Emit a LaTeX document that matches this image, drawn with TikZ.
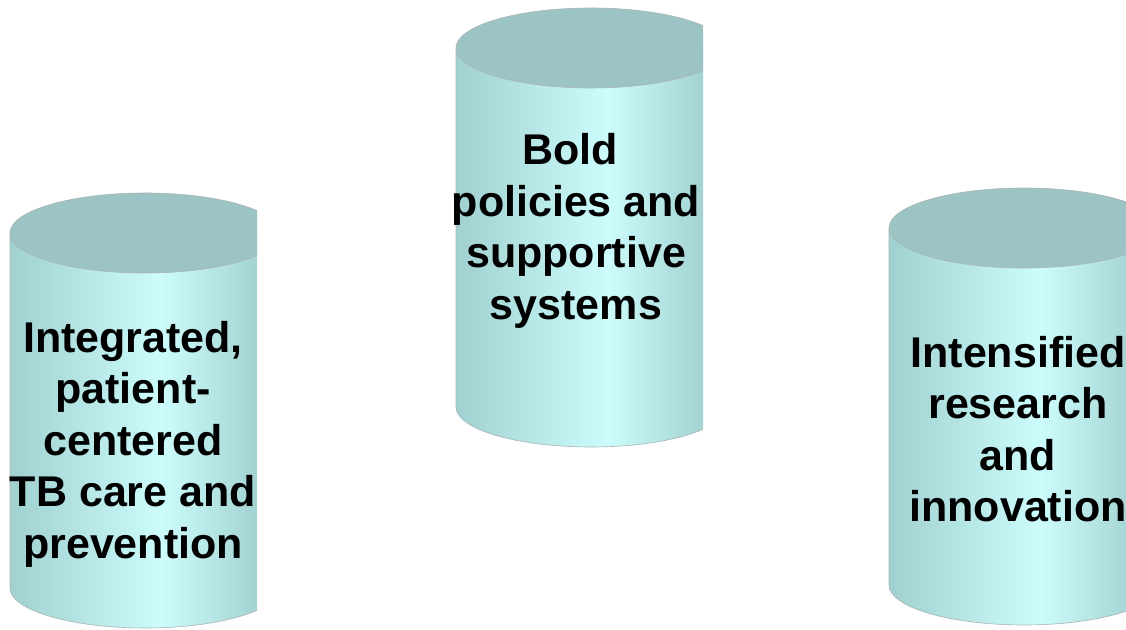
\documentclass[tikz,border=0pt]{standalone}
\usepackage{fontspec}
\setmainfont{Liberation Sans}
\definecolor{cylA}{RGB}{160,208,208}
\definecolor{cylHi}{RGB}{204,252,252}
\definecolor{cylC}{RGB}{154,200,200}
\definecolor{cyltop}{RGB}{156,196,196}
\definecolor{cylline}{RGB}{170,180,180}
\pgfdeclarehorizontalshading{cylbody}{100bp}{color(0bp)=(cylA); color(25bp)=(cylA); color(53bp)=(cylHi); color(75bp)=(cylC); color(100bp)=(cylC)}
\tikzset{
  body/.style={shading=cylbody, draw=cylline, line width=0.6pt},
  cyltopface/.style={fill=cyltop, draw=cylline, line width=0.6pt},
  label/.style={font=\bfseries\fontsize{43}{51.5}\selectfont, align=center, inner sep=0pt, text=black}
}
\begin{document}
\begin{tikzpicture}[x=1pt,y=1pt]
\useasboundingbox (0,0) rectangle (1126,629);
% left cylinder
\begin{scope}
\clip (0,0) rectangle (257,629);
\path[body] (10,396) -- (10,41) arc (180:360:135 and 40) -- (280,396) -- cycle;
\path[cyltopface] (145,396) ellipse (135 and 40);
\node[label] (left) at (133,185) {Integrated,\\patient-\\centered\\TB care and\\prevention};
\end{scope}
% centre cylinder
\begin{scope}
\clip (440,0) rectangle (703,629);
\path[body] (456,581) -- (456,222) arc (180:360:135 and 40) -- (726,581) -- cycle;
\path[cyltopface] (591,581) ellipse (135 and 40);
\node[label] (centre) at (576,398) {Bold\hspace*{12pt}\\policies and\\supportive\\systems};
\end{scope}
% right cylinder
\begin{scope}
\clip (870,0) rectangle (1126,629);
\path[body] (889,401) -- (889,44) arc (180:360:135 and 40) -- (1159,401) -- cycle;
\path[cyltopface] (1024,401) ellipse (135 and 40);
\node[label] (right) at (1018,200) {Intensified\\research\\and\\innovation};
\end{scope}
\end{tikzpicture}
\end{document}
